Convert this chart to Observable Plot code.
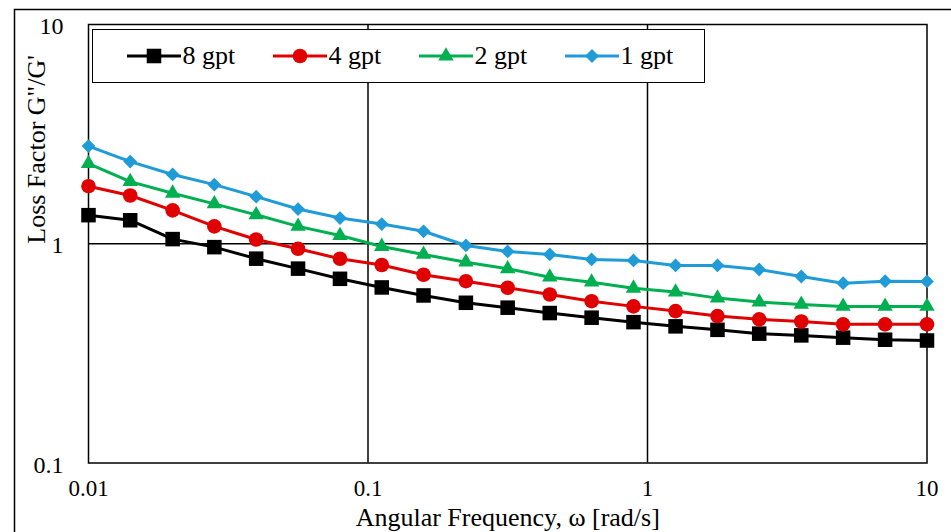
<!DOCTYPE html>
<html><head><meta charset="utf-8">
<script src="https://cdn.jsdelivr.net/npm/d3@7"></script>
<script src="https://cdn.jsdelivr.net/npm/@observablehq/plot@0.6"></script>
<style>
body{margin:0;background:#fff;}
#wrap{position:relative;width:951px;height:532px;overflow:hidden;font-family:'Liberation Serif',serif;background:#fff;}
#legend{position:absolute;left:92px;top:29px;width:613px;height:54px;border:1.5px solid #000;background:#fff;box-sizing:border-box;}
.item{position:absolute;top:0;height:100%;display:flex;align-items:center;font-family:'Liberation Serif',serif;font-size:26px;color:#000;}
.item svg{display:block;margin-right:2px;}
svg text{font-family:'Liberation Serif',serif;}
</style></head><body><div id="wrap"></div>
<script>
// Angular frequency (rad/s)
const omega = [0.01, 0.0141, 0.02, 0.0282, 0.0398, 0.0562, 0.0794, 0.112, 0.158, 0.224, 0.316, 0.447, 0.631, 0.891, 1.26, 1.78, 2.51, 3.55, 5.01, 7.08, 10];
// Loss factor G''/G'
const gpt8 = [1.35, 1.28, 1.05, 0.965, 0.855, 0.77, 0.692, 0.632, 0.581, 0.538, 0.511, 0.483, 0.460, 0.439, 0.420, 0.405, 0.389, 0.382, 0.373, 0.365, 0.362];
const gpt4 = [1.83, 1.66, 1.42, 1.20, 1.046, 0.949, 0.854, 0.80, 0.722, 0.675, 0.630, 0.587, 0.547, 0.518, 0.493, 0.468, 0.452, 0.442, 0.429, 0.429, 0.429];
const gpt2 = [2.32, 1.92, 1.70, 1.52, 1.356, 1.20, 1.09, 0.972, 0.894, 0.824, 0.769, 0.704, 0.668, 0.627, 0.602, 0.565, 0.542, 0.529, 0.518, 0.518, 0.518];
const gpt1 = [2.79, 2.37, 2.07, 1.86, 1.64, 1.44, 1.31, 1.23, 1.14, 0.982, 0.922, 0.894, 0.848, 0.839, 0.796, 0.796, 0.763, 0.709, 0.661, 0.675, 0.673];

const seriesNames = ["8 gpt", "4 gpt", "2 gpt", "1 gpt"];
const seriesValues = [gpt8, gpt4, gpt2, gpt1];
const seriesColors = ["#000000", "#e00000", "#00b050", "#1f9bd7"];
const seriesSymbols = ["square", "circle", "triangle", "diamond2"];
const seriesR = [8.2, 7.3, 5.7, 6.2];

const xTicks = [0.01, 0.1, 1, 10];
const yTicks = [0.1, 1, 10];
const xTitle = "Angular Frequency, ω [rad/s]";
const yTitle = "Loss Factor G\"/G'";

const FONT = "Liberation Serif";

const rows = [];
seriesNames.forEach((s, i) => omega.forEach((w, j) => rows.push({series: s, omega: w, value: seriesValues[i][j]})));

const lineMarks = [];
const dotMarks = [];
seriesNames.forEach((s, i) => {
  const d = rows.filter(r => r.series === s);
  lineMarks.push(Plot.line(d, {x: "omega", y: "value", stroke: seriesColors[i], strokeWidth: 3}));
  dotMarks.push(Plot.dot(d, {x: "omega", y: "value", fill: seriesColors[i], stroke: "none", symbol: () => seriesSymbols[i], r: seriesR[i]}));
});

const fmt = d => String(d);

const chart = Plot.plot({
  width: 951, height: 532,
  marginLeft: 88, marginRight: 24.5, marginTop: 24, marginBottom: 69.5,
  style: "font-family: 'Liberation Serif', serif; font-size: 24px; color: #000; background: transparent; overflow: visible;",
  x: {type: "log", domain: [0.01, 10]},
  y: {type: "log", domain: [0.1, 10]},
  symbol: {type: "identity"},
  marks: [
    Plot.gridX([0.1, 1], {stroke: "#000", strokeOpacity: 1, strokeWidth: 1.5}),
    Plot.gridY([1], {stroke: "#000", strokeOpacity: 1, strokeWidth: 1.5}),
    Plot.frame({stroke: "#000", strokeWidth: 1.5}),
    Plot.axisX({ticks: xTicks, tickSize: 0, tickPadding: 17, tickFormat: fmt, label: null, fontSize: 23, fontFamily: FONT, fontVariant: "normal"}),
    Plot.axisY({ticks: yTicks, tickSize: 0, tickPadding: 25, tickFormat: fmt, label: null, fontSize: 24, fontFamily: FONT, fontVariant: "normal", dy: 2}),
    Plot.text([xTitle], {frameAnchor: "bottom", lineAnchor: "middle", dy: 54.5, fontSize: 26, fontFamily: FONT, text: d => d}),
    Plot.text([yTitle], {frameAnchor: "left", lineAnchor: "middle", dx: -52, rotate: -90, fontSize: 26, fontFamily: FONT, text: d => d}),
    ...lineMarks,
    ...dotMarks
  ]
});

const wrap = document.getElementById("wrap");
wrap.appendChild(chart);
d3.select(chart).insert("rect", ":first-child")
  .attr("x", 14.5).attr("y", 9.5).attr("width", 1000).attr("height", 1000)
  .attr("fill", "none").attr("stroke", "#000").attr("stroke-width", 1.5);

// legend
const legend = document.createElement("div");
legend.id = "legend";
wrap.appendChild(legend);
const symMap = {square: d3.symbolSquare, circle: d3.symbolCircle, triangle: d3.symbolTriangle, diamond2: d3.symbolDiamond2};
seriesNames.forEach((s, i) => {
  const item = document.createElement("div");
  item.className = "item";
  item.style.left = (33.5 + i * 146) + "px";
  const sw = d3.create("svg").attr("width", 54).attr("height", 22);
  sw.append("line").attr("x1", 0).attr("x2", 54).attr("y1", 11).attr("y2", 11).attr("stroke", seriesColors[i]).attr("stroke-width", 3);
  sw.append("path").attr("transform", "translate(27,11)").attr("fill", seriesColors[i])
    .attr("d", d3.symbol(symMap[seriesSymbols[i]], Math.PI * seriesR[i] * seriesR[i])());
  item.appendChild(sw.node());
  const t = document.createElement("span");
  t.textContent = s;
  item.appendChild(t);
  legend.appendChild(item);
});
</script></body></html>
